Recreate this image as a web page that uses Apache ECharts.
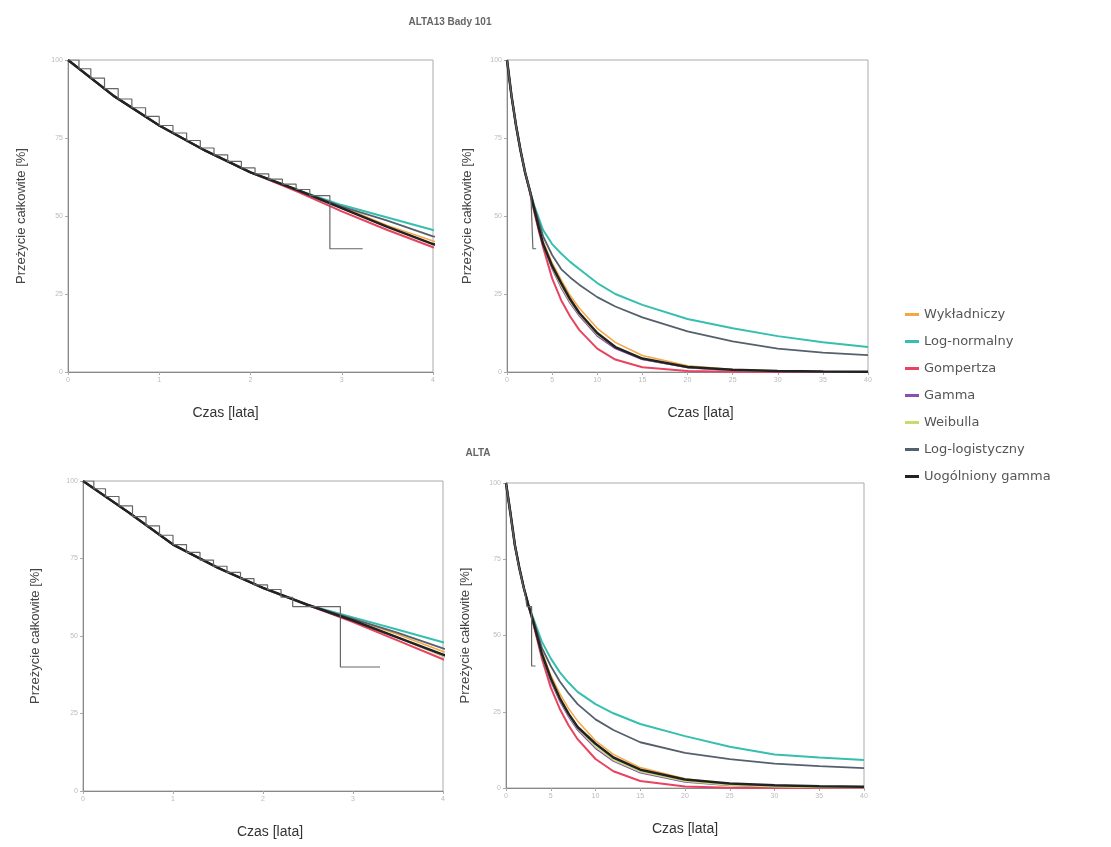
<!DOCTYPE html>
<html>
<head>
<meta charset="utf-8">
<script src="https://cdn.jsdelivr.net/npm/echarts@6/dist/echarts.min.js"></script>
<style>
  html, body { margin: 0; padding: 0; background: #fff; }
  #chart { width: 1111px; height: 847px; }
</style>
</head>
<body>
<div id="chart"></div>
<script>
// czas w latach, wspolny dla wszystkich krzywych
var years = [0, 0.5, 1, 1.5, 2, 2.5, 3, 3.5, 4, 5, 6, 7, 8, 10, 12, 15, 20, 25, 30, 35, 40];

var modelNames = ['Wykładniczy', 'Log-normalny', 'Gompertza', 'Gamma', 'Weibulla', 'Log-logistyczny', 'Uogólniony gamma'];
var modelColors = ['#f5a742', '#36bfae', '#e8435f', '#8a4fb5', '#c5dc6e', '#55606e', '#222222'];
var modelWidths = [1.5, 2, 2, 1.5, 1.5, 1.8, 2.5];

// ALTA13 - krzywe dopasowane
var top_wyk = [100, 88.5, 79, 71, 64, 58.5, 53, 47, 42, 35, 29.5, 24.5, 20.5, 14, 9.5, 5.3, 2, 0.8, 0.3, 0.1, 0.05];
var top_lognorm = [100, 88.5, 79, 71, 64, 58.5, 53.5, 49.5, 45.5, 41, 38, 35.3, 33, 28.5, 25, 21.5, 17, 14, 11.5, 9.5, 8];
var top_gomp = [100, 88.5, 79, 71, 64, 58, 51.5, 45.5, 40, 30, 23, 17.8, 13.5, 7.5, 4, 1.5, 0.3, 0.05, 0, 0, 0];
var top_gamma = [100, 88.5, 79, 71, 64, 58.5, 52.5, 46.5, 41, 33, 27, 22, 18, 11.5, 7.5, 4, 1.4, 0.5, 0.2, 0.1, 0];
var top_weib = [100, 88.5, 79, 71, 64, 58.5, 52.5, 46.5, 41, 33.5, 27.5, 22.5, 18.5, 12, 8, 4.2, 1.5, 0.6, 0.25, 0.1, 0.05];
var top_loglog = [100, 88.5, 79, 71, 64, 58.5, 53, 48.5, 43.5, 37.5, 33, 30.3, 28, 24, 21, 17.5, 13, 9.8, 7.5, 6.2, 5.4];
var top_gengam = [100, 88.5, 79, 71, 64, 58.5, 52.5, 46.5, 41, 34, 28.5, 23.3, 19, 12.5, 8, 4.3, 1.6, 0.7, 0.3, 0.15, 0.1];

// ALTA13 - Kaplan-Meier
var top_km_t = [0, 0.12, 0.25, 0.4, 0.55, 0.7, 0.85, 1.0, 1.15, 1.3, 1.45, 1.6, 1.75, 1.9, 2.05, 2.2, 2.35, 2.5, 2.65, 2.87, 3.23];
var top_km_s = [100, 97.2, 94.2, 90.8, 87.5, 84.7, 81.9, 79, 76.6, 74.2, 71.8, 69.6, 67.5, 65.4, 63.5, 61.8, 60.2, 58.5, 56.5, 39.5, 39.5];

// ALTA - krzywe dopasowane
var bot_wyk = [100, 90, 79.5, 72, 65.5, 60, 55.5, 50.5, 45, 37, 31, 26, 22, 15.5, 11, 6.7, 3, 1.3, 0.6, 0.3, 0.1];
var bot_lognorm = [100, 90, 79.5, 72, 65.5, 60, 56, 52, 48, 42.5, 38, 34.5, 31.5, 27.5, 24.5, 21, 17, 13.5, 11, 10, 9.2];
var bot_gomp = [100, 90, 79.5, 72, 65.5, 60, 54.5, 48.5, 42.5, 33, 26, 20.5, 16, 9.5, 5.5, 2.3, 0.5, 0.1, 0, 0, 0];
var bot_gamma = [100, 90, 79.5, 72, 65.5, 60, 55, 49.5, 43.5, 35, 28.5, 23.3, 19, 13, 8.8, 5, 2, 0.8, 0.3, 0.15, 0.05];
var bot_weib = [100, 90, 79.5, 72, 65.5, 60, 55, 49.5, 43.5, 35.5, 29, 23.8, 19.5, 13.5, 9.2, 5.3, 2.2, 0.9, 0.4, 0.2, 0.1];
var bot_loglog = [100, 90, 79.5, 72, 65.5, 60, 55.5, 51, 46, 40, 35, 31, 27.5, 22.5, 19, 15, 11.5, 9.5, 8, 7.2, 6.5];
var bot_gengam = [100, 90, 79.5, 72, 65.5, 60, 55, 49.5, 44, 36, 29.5, 24.3, 20, 14.5, 10, 6, 2.8, 1.5, 0.9, 0.6, 0.4];

// ALTA - Kaplan-Meier
var bot_km_t = [0, 0.12, 0.25, 0.4, 0.55, 0.7, 0.85, 1.0, 1.15, 1.3, 1.45, 1.6, 1.75, 1.9, 2.05, 2.2, 2.33, 2.86, 3.3];
var bot_km_s = [100, 97.5, 95, 92, 88.5, 85.5, 82.5, 79.5, 77, 74.5, 72.5, 70.5, 68.5, 66.5, 65, 62.5, 59.5, 40, 40];

var topModels = [top_wyk, top_lognorm, top_gomp, top_gamma, top_weib, top_loglog, top_gengam];
var botModels = [bot_wyk, bot_lognorm, bot_gomp, bot_gamma, bot_weib, bot_loglog, bot_gengam];

function zip(xs, ys) {
    return xs.map(function (x, i) { return [x, ys[i]]; });
}

function makeX(idx, max, interval, pad) {
    return {
        gridIndex: idx, type: 'value', min: 0, max: max, interval: interval,
        name: 'Czas [lata]', nameLocation: 'middle', nameGap: 34,
        nameTextStyle: { fontSize: 14, color: '#333', padding: pad || 0 },
        axisLine: { lineStyle: { color: '#888' } },
        axisTick: { length: 3, lineStyle: { color: '#aaa' } },
        axisLabel: { fontSize: 7, color: '#bbb', margin: 5 },
        splitLine: { show: false }
    };
}
function makeY(idx, gap) {
    return {
        gridIndex: idx, type: 'value', min: 0, max: 100, interval: 25,
        name: 'Przeżycie całkowite [%]', nameLocation: 'middle', nameGap: gap,
        nameTextStyle: { fontSize: 13, color: '#444' },
        axisLine: { show: true, lineStyle: { color: '#888' } },
        axisTick: { show: true, length: 3, lineStyle: { color: '#aaa' } },
        axisLabel: { fontSize: 7, color: '#bbb', margin: 5 },
        splitLine: { show: false }
    };
}

var grids = [
    { left: 68, top: 60, width: 365, height: 312 },
    { left: 507, top: 60, width: 361, height: 312 },
    { left: 83, top: 481, width: 360, height: 310 },
    { left: 506, top: 483, width: 358, height: 305 }
].map(function (g) {
    g.show = true; g.borderColor = '#aaa'; g.borderWidth = 1; g.backgroundColor = '#fff';
    return g;
});

var series = [];
function addPanel(idx, models, kmT, kmS) {
    models.forEach(function (vals, m) {
        series.push({
            name: modelNames[m], type: 'line',
            xAxisIndex: idx, yAxisIndex: idx,
            data: zip(years, vals),
            smooth: false,
            showSymbol: false, clip: true,
            lineStyle: { color: modelColors[m], width: modelWidths[m] },
            itemStyle: { color: modelColors[m] },
            z: 2 + m
        });
    });
    series.push({
        name: 'Kaplan-Meier', type: 'line', step: 'end',
        xAxisIndex: idx, yAxisIndex: idx,
        data: zip(kmT, kmS),
        showSymbol: false, clip: true,
        lineStyle: { color: '#666', width: 1.2 },
        z: 10
    });
}
addPanel(0, topModels, top_km_t, top_km_s);
addPanel(1, topModels, top_km_t, top_km_s);
addPanel(2, botModels, bot_km_t, bot_km_s);
addPanel(3, botModels, bot_km_t, bot_km_s);

var chart = echarts.init(document.getElementById('chart'));
chart.setOption({
    animation: false,
    title: [
        { text: 'ALTA13 Bady 101', left: 445, top: 12, textAlign: 'center',
          textStyle: { fontSize: 10, fontWeight: 'bold', color: '#666' } },
        { text: 'ALTA', left: 473, top: 443, textAlign: 'center',
          textStyle: { fontSize: 10, fontWeight: 'bold', color: '#666' } }
    ],
    legend: {
        data: modelNames, orient: 'vertical', left: 900, top: 303,
        itemWidth: 14, itemHeight: 3, itemGap: 14,
        icon: 'rect',
        textStyle: { fontSize: 13, color: '#555', fontFamily: 'DejaVu Sans' }
    },
    grid: grids,
    xAxis: [makeX(0, 4, 1, [0, 50, 0, 0]), makeX(1, 40, 5, [0, 0, 0, 26]), makeX(2, 4, 1, [0, 0, 0, 14]), makeX(3, 40, 5)],
    yAxis: [makeY(0, 40), makeY(1, 33), makeY(2, 41), makeY(3, 34)],
    series: series
});
</script>
</body>
</html>
